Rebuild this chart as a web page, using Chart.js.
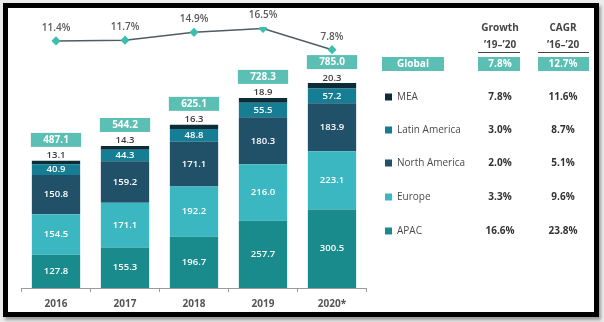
<!DOCTYPE html>
<html>
<head>
<meta charset="utf-8">
<script src="https://cdn.jsdelivr.net/npm/chart.js@4"></script>
<style>
    body { margin: 0; background: #ececec; width: 604px; height: 322px; overflow: hidden; }
    #moldura {
        position: absolute; left: 3px; top: 3px;
        width: 586px; height: 304px;
        border: 5px solid #000; background: #fff;
        box-shadow: 2px 3px 3px rgba(0, 0, 0, 0.35);
    }
    canvas { display: block; }
</style>
</head>
<body>
<div id="moldura"><canvas id="grafico" width="586" height="304"></canvas></div>
<script>
const anos = ['2016', '2017', '2018', '2019', '2020*'];

// empilhamento de baixo para cima
const regioes = ['APAC', 'Europe', 'North America', 'Latin America', 'MEA'];
const apac = [127.8, 155.3, 196.7, 257.7, 300.5];
const europa = [154.5, 171.1, 192.2, 216.0, 223.1];
const americaNorte = [150.8, 159.2, 171.1, 180.3, 183.9];
const americaLatina = [40.9, 44.3, 48.8, 55.5, 57.2];
const mea = [13.1, 14.3, 16.3, 18.9, 20.3];
const totais = [487.1, 544.2, 625.1, 728.3, 785.0];
const crescimentoAnual = [11.4, 11.7, 14.9, 16.5, 7.8];

// tabela da direita, mesma ordem de regioes
const crescimento1920 = [16.6, 3.3, 2.0, 3.0, 7.8];
const cagr1620 = [23.8, 9.6, 5.1, 8.7, 11.6];
const globalCrescimento = 7.8;
const globalCagr = 12.7;

const cores = ['#1a8b8c', '#3ab7c1', '#215069', '#157d94', '#0e2b38'];
const corDestaque = '#5cbfb4';
const fonte = '"Open Sans", sans-serif';

const valores = [apac, europa, americaNorte, americaLatina, mea];

const rotulos = {
    id: 'rotulos',
    afterDatasetsDraw(chart) {
        const ctx = chart.ctx;
        ctx.save();
        ctx.textAlign = 'center';
        chart.data.datasets.forEach((ds, i) => {
            const meta = chart.getDatasetMeta(i);
            meta.data.forEach((el, j) => {
                const valor = ds.data[j];
                if (ds.type === 'line') {
                    ctx.fillStyle = '#5a5a5a';
                    ctx.font = '600 10px ' + fonte;
                    ctx.textBaseline = 'middle';
                    ctx.fillText(valor.toFixed(1) + '%', el.x, el.y - 13);
                } else if (ds.label === 'MEA') {
                    ctx.fillStyle = '#3a3a3a';
                    ctx.font = '600 9.5px ' + fonte;
                    ctx.textBaseline = 'bottom';
                    ctx.fillText(valor.toFixed(1), el.x, el.y - 0.5);

                    const largura = el.width + 2;
                    const cy = el.y - 21;
                    ctx.fillStyle = corDestaque;
                    ctx.fillRect(el.x - largura / 2, cy - 7, largura, 14);
                    ctx.fillStyle = '#fff';
                    ctx.font = 'bold 10px ' + fonte;
                    ctx.textBaseline = 'middle';
                    ctx.fillText(totais[j].toFixed(1), el.x, cy + 0.5);
                } else {
                    ctx.fillStyle = '#fff';
                    ctx.font = '600 9.5px ' + fonte;
                    ctx.textBaseline = 'middle';
                    ctx.fillText(valor.toFixed(1), el.x, (el.y + el.base) / 2);
                }
            });
        });
        ctx.restore();
    }
};

const tabela = {
    id: 'tabela',
    afterDraw(chart) {
        const ctx = chart.ctx;
        const colCresc = 492;
        const colCagr = 555;
        ctx.save();
        ctx.textAlign = 'center';
        ctx.textBaseline = 'middle';

        ctx.fillStyle = '#444';
        ctx.font = 'bold 10px ' + fonte;
        ctx.fillText('Growth', colCresc, 20);
        ctx.fillText('CAGR', colCagr, 20);
        ctx.fillText('\u201919\u2013\u201920', colCresc, 37);
        ctx.fillText('\u201916\u2013\u201920', colCagr, 37);
        ctx.strokeStyle = '#444';
        ctx.lineWidth = 1;
        ctx.beginPath();
        ctx.moveTo(470, 44.5); ctx.lineTo(512, 44.5);
        ctx.moveTo(530, 44.5); ctx.lineTo(581, 44.5);
        ctx.stroke();

        // linha Global
        ctx.fillStyle = corDestaque;
        ctx.fillRect(374, 49, 62, 14);
        ctx.fillRect(470, 49, 42, 14);
        ctx.fillRect(530, 49, 51, 14);
        ctx.fillStyle = '#fff';
        ctx.fillText('Global', 405, 56.5);
        ctx.fillText(globalCrescimento.toFixed(1) + '%', colCresc, 56.5);
        ctx.fillText(globalCagr.toFixed(1) + '%', colCagr, 56.5);

        const linhas = [89, 122, 155, 189, 223];
        for (let k = 0; k < regioes.length; k++) {
            const i = regioes.length - 1 - k;
            const y = linhas[k];
            ctx.fillStyle = cores[i];
            ctx.fillRect(377, y - 3.5, 7, 7);
            ctx.textAlign = 'left';
            ctx.fillStyle = '#4a4a4a';
            ctx.font = '10px ' + fonte;
            ctx.fillText(regioes[i], 389, y);
            ctx.textAlign = 'center';
            ctx.fillStyle = '#333';
            ctx.font = 'bold 10px ' + fonte;
            ctx.fillText(crescimento1920[i].toFixed(1) + '%', colCresc, y);
            ctx.fillText(cagr1620[i].toFixed(1) + '%', colCagr, y);
        }
        ctx.restore();
    }
};

const datasets = [{
    type: 'line',
    label: 'Growth',
    data: crescimentoAnual,
    yAxisID: 'y2',
    borderColor: '#4f5c62',
    borderWidth: 1.5,
    pointStyle: 'rectRot',
    pointRadius: 3.5,
    pointBackgroundColor: '#3cbfae',
    pointBorderColor: '#3cbfae',
    tension: 0
}];

regioes.forEach((nome, i) => {
    datasets.push({
        type: 'bar',
        label: nome,
        data: valores[i],
        backgroundColor: cores[i],
        borderWidth: 0,
        yAxisID: 'y',
        categoryPercentage: 1,
        barPercentage: 0.7
    });
});

new Chart(document.getElementById('grafico'), {
    data: { labels: anos, datasets: datasets },
    options: {
        responsive: false,
        animation: false,
        layout: { padding: { left: 13.5, right: 227.5, top: 19, bottom: -4 } },
        plugins: { legend: { display: false }, tooltip: { enabled: false } },
        scales: {
            x: {
                stacked: true,
                offset: true,
                grid: { display: true, drawOnChartArea: false, offset: true, tickLength: 4, color: '#9a9a9a' },
                border: { display: true, color: '#9a9a9a' },
                ticks: { color: '#555', padding: 6, font: { family: 'Open Sans', weight: 'bold', size: 10 } }
            },
            y: { stacked: true, display: false, min: 0, max: 1000 },
            y2: { display: false, min: -90, max: 17.1 }
        }
    },
    plugins: [rotulos, tabela]
});
</script>
</body>
</html>
